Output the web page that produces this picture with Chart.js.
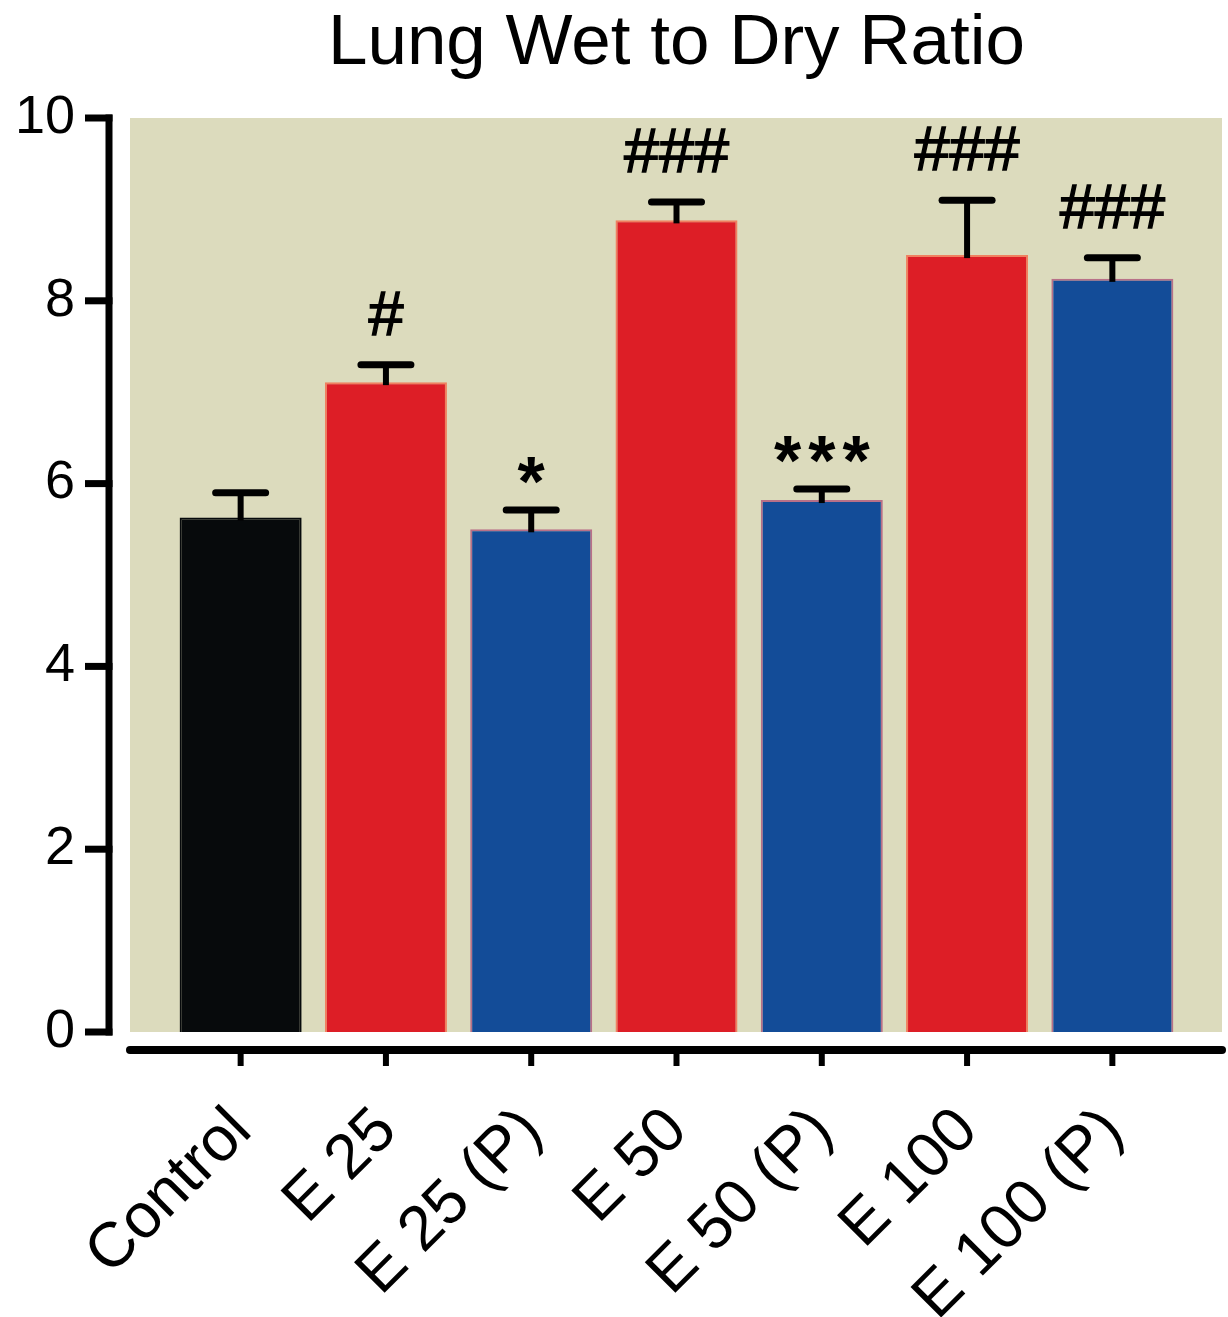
<!DOCTYPE html>
<html>
<head>
<meta charset="utf-8">
<title>Lung Wet to Dry Ratio</title>
<script src="https://cdn.jsdelivr.net/npm/chart.js@4.4.1/dist/chart.umd.min.js"></script>
<style>
  html, body { margin: 0; padding: 0; background: #fff; }
  #wrap { width: 1228px; height: 1317px; }
</style>
</head>
<body>
<div id="wrap"><canvas id="chart" width="1228" height="1317"></canvas></div>
<script>
// data
const categories = ['Control', 'E 25', 'E 25 (P)', 'E 50', 'E 50 (P)', 'E 100', 'E 100 (P)'];
const ratioMean = [5.63, 7.11, 5.50, 8.88, 5.82, 8.50, 8.24];
const ratioSem = [0.27, 0.19, 0.21, 0.20, 0.12, 0.60, 0.23];
const sigMarks = ['', '#', '*', '###', '***', '###', '###'];
const yTickValues = [0, 2, 4, 6, 8, 10];

const barFill = ['#070a0c', '#dd1e26', '#134c98', '#dd1e26', '#134c98', '#dd1e26', '#134c98'];
const barEdge = ['#070a0c', '#f08060', '#b87088', '#f08060', '#b87088', '#f08060', '#b87088'];

const FONT = '"Liberation Sans", Arial, Helvetica, sans-serif';

// khaki panel, axis lines, error bars, marks and title
const plotDecor = {
  id: 'plotDecor',
  beforeDraw(chart) {
    const { ctx, chartArea, scales: { x, y } } = chart;
    const top = y.getPixelForValue(10);
    const bottom = y.getPixelForValue(0);
    const left = chartArea.left - 38;
    const right = chartArea.right + 37;
    ctx.save();
    ctx.fillStyle = '#dcdbbd';
    ctx.fillRect(left, top, right - left, bottom - top);

    // y axis
    ctx.strokeStyle = '#000';
    ctx.lineWidth = 7;
    ctx.lineCap = 'butt';
    const ax = chartArea.left - 59;
    ctx.beginPath();
    ctx.moveTo(ax, top - 3.5);
    ctx.lineTo(ax, bottom + 3.5);
    ctx.stroke();
    yTickValues.forEach(v => {
      const py = y.getPixelForValue(v);
      ctx.beginPath();
      ctx.moveTo(ax - 24, py);
      ctx.lineTo(ax + 3.5, py);
      ctx.stroke();
    });

    // x axis
    const xy = bottom + 18;
    ctx.lineWidth = 8;
    ctx.lineCap = 'round';
    ctx.beginPath();
    ctx.moveTo(left, xy);
    ctx.lineTo(right, xy);
    ctx.stroke();
    ctx.lineWidth = 6;
    ctx.lineCap = 'butt';
    categories.forEach((c, i) => {
      const px = x.getPixelForValue(i);
      ctx.beginPath();
      ctx.moveTo(px, xy);
      ctx.lineTo(px, xy + 16);
      ctx.stroke();
    });
    ctx.restore();
  },
  afterDatasetsDraw(chart) {
    const { ctx, chartArea, scales: { x, y } } = chart;
    ctx.save();
    ctx.strokeStyle = '#000';
    ctx.fillStyle = '#000';
    ratioMean.forEach((v, i) => {
      const px = x.getPixelForValue(i);
      const pBar = y.getPixelForValue(v);
      const pTop = y.getPixelForValue(v + ratioSem[i]);
      ctx.lineWidth = 6;
      ctx.beginPath();
      ctx.moveTo(px, pBar + 3);
      ctx.lineTo(px, pTop);
      ctx.stroke();
      ctx.lineWidth = 7;
      ctx.lineCap = 'round';
      ctx.beginPath();
      ctx.moveTo(px - 25, pTop);
      ctx.lineTo(px + 25, pTop);
      ctx.stroke();
      ctx.lineCap = 'butt';

      const m = sigMarks[i];
      if (!m) return;
      ctx.textAlign = 'center';
      ctx.textBaseline = 'alphabetic';
      if (m[0] === '#') {
        ctx.font = '63px ' + FONT;
        ctx.letterSpacing = '0px';
        ctx.lineWidth = 1.4;
        ctx.fillText(m, px, pTop - 30);
        ctx.strokeText(m, px, pTop - 30);
      } else {
        ctx.font = 'bold 70px ' + FONT;
        ctx.letterSpacing = '7px';
        ctx.fillText(m, px + 3.5, pTop - 4);
      }
    });

    // title
    ctx.letterSpacing = '0px';
    ctx.font = '71px ' + FONT;
    ctx.textAlign = 'center';
    ctx.textBaseline = 'alphabetic';
    ctx.fillText('Lung Wet to Dry Ratio', (chartArea.left + chartArea.right) / 2, 64);
    ctx.restore();
  }
};

new Chart(document.getElementById('chart'), {
  type: 'bar',
  data: {
    labels: categories,
    datasets: [{
      data: ratioMean,
      backgroundColor: barFill,
      borderColor: barEdge,
      borderWidth: 2,
      borderSkipped: 'start',
      barPercentage: 0.84,
      categoryPercentage: 1
    }]
  },
  options: {
    responsive: false,
    animation: false,
    devicePixelRatio: 1,
    layout: { padding: { top: 118, right: 43, left: 0, bottom: 0 } },
    plugins: {
      legend: { display: false },
      tooltip: { enabled: false },
      title: { display: false }
    },
    scales: {
      x: {
        grid: { display: false, drawTicks: false },
        border: { display: false },
        ticks: {
          color: '#000',
          font: { family: FONT, size: 63 },
          maxRotation: 45,
          minRotation: 45,
          padding: 62,
          labelOffset: 1,
          autoSkip: false
        },
        afterFit(scale) {
          scale.height = 1317 - 1032;
          scale.paddingLeft = 0;
          scale.paddingRight = 0;
        }
      },
      y: {
        min: 0,
        max: 10,
        grid: { display: false, drawTicks: true, tickLength: 91 },
        border: { display: false },
        afterBuildTicks(scale) { scale.ticks = yTickValues.map(v => ({ value: v })); },
        ticks: {
          color: '#000',
          font: { family: FONT, size: 54 },
          padding: 2
        },
        afterFit(scale) {
          scale.width = 168;
          scale.paddingTop = 0;
          scale.paddingBottom = 0;
        }
      }
    }
  },
  plugins: [plotDecor]
});
</script>
</body>
</html>
